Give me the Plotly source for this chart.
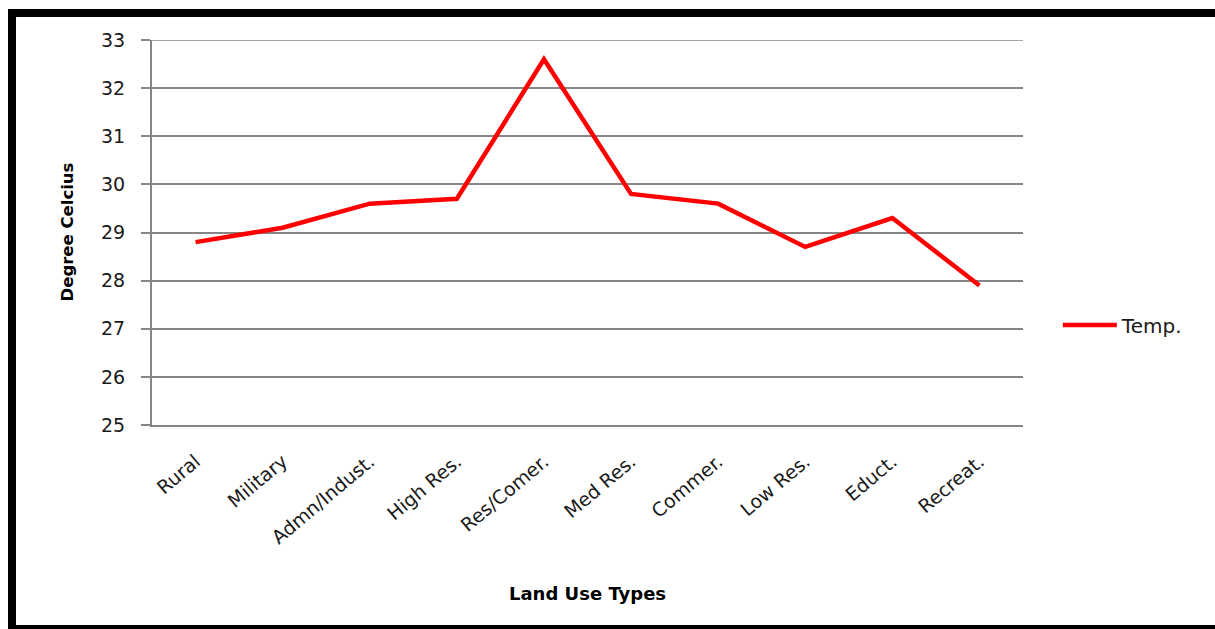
import plotly.graph_objects as go

categories = ["Rural", "Military", "Admn/Indust.", "High Res.", "Res/Comer.",
              "Med Res.", "Commer.", "Low Res.", "Educt.", "Recreat."]
temp = [28.8, 29.1, 29.6, 29.7, 32.6, 29.8, 29.6, 28.7, 29.3, 27.9]
y_ticks = [25, 26, 27, 28, 29, 30, 31, 32, 33]

FONT = "DejaVu Sans"
GRID = "#868686"

fig = go.Figure()
fig.add_trace(go.Scatter(
    x=categories, y=temp, mode="lines", name="Temp.",
    line=dict(color="#ff0000", width=4.5),
))

fig.update_layout(
    width=1215, height=629,
    margin=dict(l=152, r=192, t=40, b=204),
    paper_bgcolor="white", plot_bgcolor="white",
    font=dict(family=FONT, size=16, color="#1a1a1a"),
    showlegend=True,
    legend=dict(x=1.04, y=0.26, xanchor="left", yanchor="middle",
                itemwidth=54,
                font=dict(family=FONT, size=20, color="#1a1a1a"),
                bgcolor="rgba(0,0,0,0)"),
    xaxis=dict(type="category", showgrid=False, showline=True, linecolor=GRID,
               linewidth=2, tickangle=-40, ticks="", tickfont=dict(size=19),
               ticklabelstandoff=16,
               range=[-0.5, len(categories) - 0.5]),
    yaxis=dict(range=[25, 33], tickvals=y_ticks, showgrid=True, gridcolor=GRID,
               gridwidth=1.5, showline=True, linecolor=GRID, linewidth=2,
               ticks="outside", ticklen=9, tickcolor=GRID, tickwidth=1.5,
               ticklabelstandoff=12,
               zeroline=False, tickfont=dict(size=19)),
    annotations=[
        dict(text="<b>Degree Celcius</b>", xref="paper", yref="paper",
             x=(67 - 152) / 871, y=0.5, textangle=-90, showarrow=False,
             xanchor="center", yanchor="middle", font=dict(size=16.5, color="black")),
        dict(text="<b>Land Use Types</b>", xref="paper", yref="paper",
             x=0.5, y=(425 - 593) / 385, showarrow=False,
             xanchor="center", yanchor="middle", font=dict(size=18, color="black")),
    ],
    shapes=[
        dict(type="line", xref="paper", yref="y", x0=-9 / 871, x1=1, y0=33, y1=33,
             line=dict(color=GRID, width=1.5), layer="below"),
        dict(type="rect", xref="paper", yref="paper", x0=(8 - 152) / 871, x1=(1215 - 152) / 871,
             y0=(425 - 17) / 385, y1=(425 - 9) / 385, fillcolor="black", line=dict(width=0)),
        dict(type="rect", xref="paper", yref="paper", x0=(8 - 152) / 871, x1=(16 - 152) / 871,
             y0=(425 - 629) / 385, y1=(425 - 9) / 385, fillcolor="black", line=dict(width=0)),
        dict(type="rect", xref="paper", yref="paper", x0=(8 - 152) / 871, x1=(1215 - 152) / 871,
             y0=(425 - 629) / 385, y1=(425 - 625) / 385, fillcolor="black", line=dict(width=0)),
    ],
)

fig.write_html("out.html")
